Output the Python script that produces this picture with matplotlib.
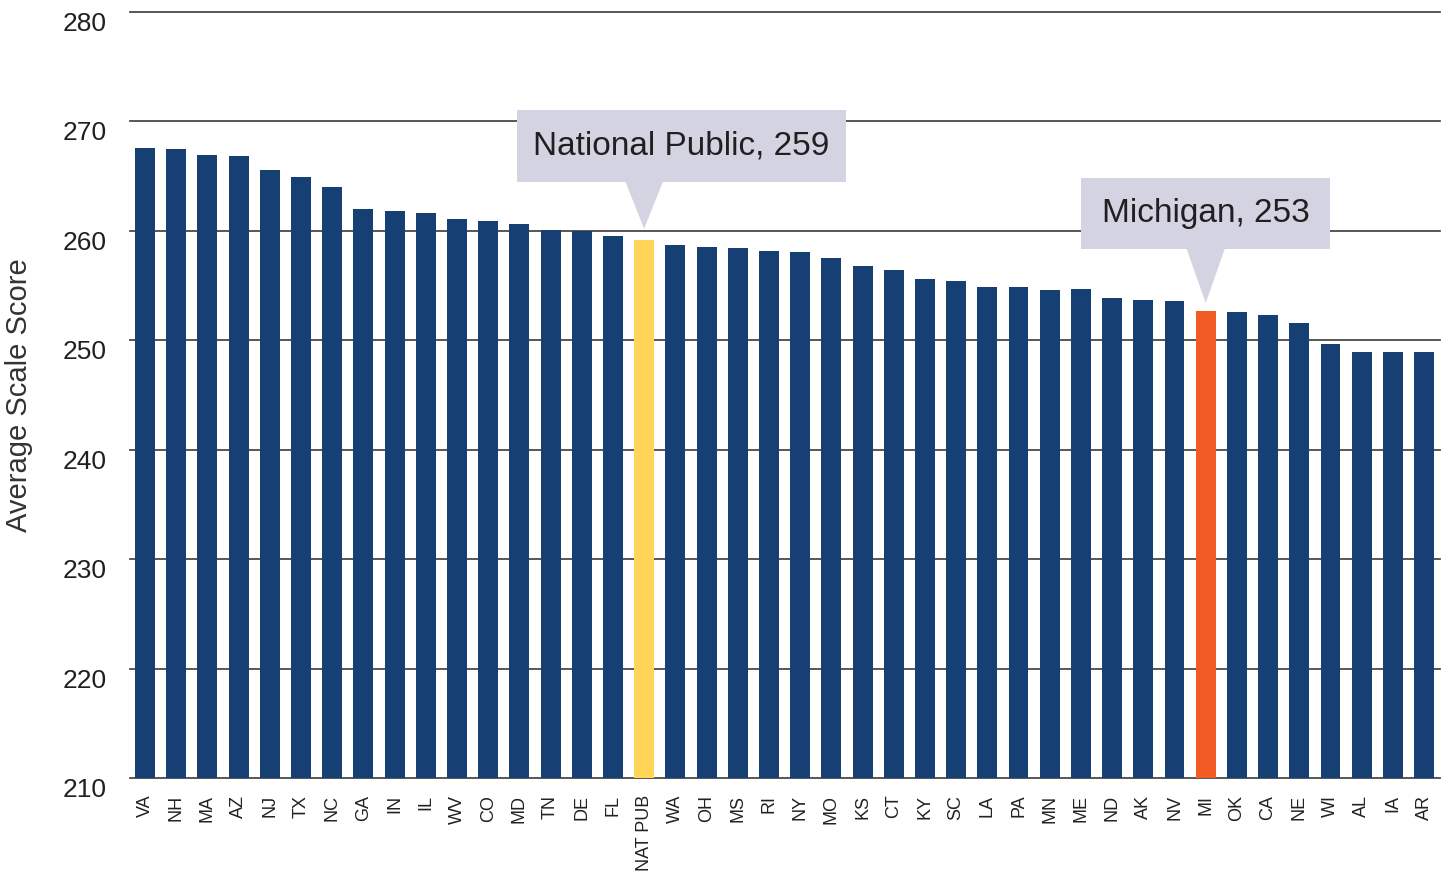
import matplotlib
matplotlib.use("Agg")
from matplotlib import pyplot as plt
from matplotlib.patches import Rectangle, Polygon

# average scale scores, sorted high to low
states = ['VA', 'NH', 'MA', 'AZ', 'NJ', 'TX', 'NC', 'GA', 'IN', 'IL', 'WV', 'CO', 'MD', 'TN',
          'DE', 'FL', 'NAT PUB', 'WA', 'OH', 'MS', 'RI', 'NY', 'MO', 'KS', 'CT', 'KY', 'SC',
          'LA', 'PA', 'MN', 'ME', 'ND', 'AK', 'NV', 'MI', 'OK', 'CA', 'NE', 'WI', 'AL', 'IA', 'AR']
scores = [267.6, 267.5, 266.9, 266.8, 265.6, 264.9, 264.0, 262.0, 261.8, 261.6, 261.1, 260.9,
          260.6, 260.1, 260.0, 259.5, 259.2, 258.7, 258.5, 258.4, 258.2, 258.1, 257.5, 256.8,
          256.4, 255.6, 255.4, 254.9, 254.9, 254.6, 254.7, 253.9, 253.7, 253.6, 252.7, 252.6,
          252.3, 251.6, 249.7, 248.9, 248.9, 248.9]
yticks = [210, 220, 230, 240, 250, 260, 270, 280]

callouts = [('NAT PUB', 'National Public, 259'), ('MI', 'Michigan, 253')]

navy = '#163f73'
highlight = {'NAT PUB': '#ffd457', 'MI': '#f25c24'}
box_col = '#d3d3e2'
txt = '#231f20'
font = 'Liberation Sans'

fig = plt.figure(figsize=(14.51, 8.73), dpi=100)
ax = fig.add_axes([130 / 1451, 95 / 873, 1310 / 1451, 766 / 873])

x = list(range(len(states)))
colors = [highlight.get(s, navy) for s in states]
ax.bar(x, [s - yticks[0] for s in scores], bottom=yticks[0], width=0.64, color=colors, zorder=3)

for t in yticks:
    ax.axhline(t, color='#4a4a4a', lw=1.3, zorder=1, clip_on=False)

ax.set_xlim(-0.48, len(states) - 0.49)
ax.set_ylim(yticks[0], yticks[-1])
ax.set_yticks(yticks)
ax.set_yticklabels([str(t) for t in yticks], fontsize=19, family=font, color=txt, va='top')
ax.set_xticks(x)
ax.set_xticklabels(states, rotation=90, fontsize=13, family=font, color='#222222', va='top')
ax.tick_params(axis='y', length=0, pad=17)
ax.tick_params(axis='x', length=0, pad=12)
for sp in ax.spines.values():
    sp.set_visible(False)
ax.set_ylabel('Average Scale Score', fontsize=21, family=font, color='#333333')
ax.yaxis.set_label_coords(-0.074, 0.5)

# speech bubble callouts
shapes = {'NAT PUB': (1.2, 10.55, 5.3, 1.0), 'MI': (0.0, 7.98, 5.6, 0.7)}
for key, label in callouts:
    i = states.index(key)
    v = scores[i]
    dx, w, lift, gap = shapes[key]
    bottom = v + lift
    h = 6.55
    ax.add_patch(Rectangle((i + dx - w / 2, bottom), w, h, facecolor=box_col,
                           edgecolor='none', zorder=5, clip_on=False))
    ax.add_patch(Polygon([(i - 0.61, bottom + 0.05), (i + 0.61, bottom + 0.05), (i, v + gap)],
                         closed=True, facecolor=box_col, edgecolor='none', zorder=5))
    ax.text(i + dx, bottom + h / 2, label, ha='center', va='center', fontsize=24,
            family=font, color=txt, zorder=6)

fig.savefig('out.png', dpi=100)
